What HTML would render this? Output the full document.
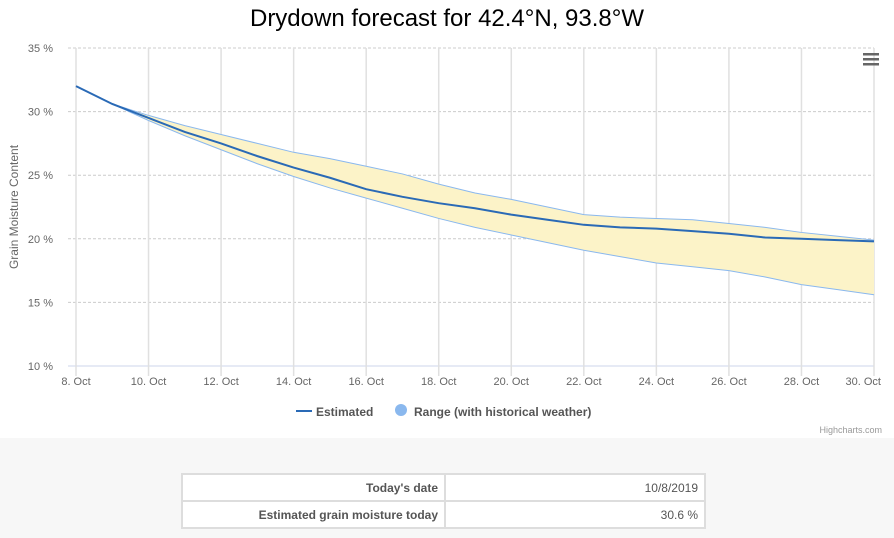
<!DOCTYPE html>
<html><head><meta charset="utf-8">
<style>
body{margin:0;width:894px;height:538px;background:#f7f7f7;font-family:"Liberation Sans",Arial,sans-serif;overflow:hidden;position:relative}
#chart{position:absolute;left:0;top:0;width:894px;height:438px;background:#fff}
table{position:absolute;left:181px;top:473px;width:525px;border-collapse:collapse;font-size:12px;color:#555;background:#fff}
td{border:2px solid #ddd;height:25px;padding:0 6px;text-align:right}
td.l{font-weight:bold;width:249px}
</style></head><body>
<svg id="chart" width="894" height="438" xmlns="http://www.w3.org/2000/svg">
<text x="447" y="26" text-anchor="middle" font-size="24" fill="#000" font-family="Liberation Sans, sans-serif">Drydown forecast for 42.4°N, 93.8°W</text>
<g id="grid"></g><g id="series"></g><g id="axes"></g>
<text transform="translate(18,207) rotate(-90)" text-anchor="middle" font-size="12" fill="#666">Grain Moisture Content</text>
<g fill="#666"><rect x="863" y="53" width="16" height="2.5"/><rect x="863" y="58" width="16" height="2.5"/><rect x="863" y="63" width="16" height="2.5"/></g>
<g><line x1="296" y1="411" x2="312" y2="411" stroke="#2a6ab6" stroke-width="2"/><text x="316" y="416" font-size="12" font-weight="bold" fill="#555">Estimated</text></g>
<g><circle cx="401" cy="410" r="6" fill="#8ab8ee"/><text x="414" y="416" font-size="12" font-weight="bold" fill="#555">Range (with historical weather)</text></g>
<text x="882" y="433" text-anchor="end" font-size="9" fill="#999">Highcharts.com</text>
</svg>
<table>
<tr><td class="l">Today's date</td><td>10/8/2019</td></tr>
<tr><td class="l">Estimated grain moisture today</td><td>30.6 %</td></tr>
</table>
<script>
const days=[8,9,10,11,12,13,14,15,16,17,18,19,20,21,22,23,24,25,26,27,28,29,30];
const estimated=[32.0,30.6,29.5,28.4,27.5,26.5,25.6,24.8,23.9,23.3,22.8,22.4,21.9,21.5,21.1,20.9,20.8,20.6,20.4,20.1,20.0,19.9,19.8];
const upper=[null,30.6,29.7,28.9,28.2,27.5,26.8,26.3,25.7,25.1,24.3,23.6,23.1,22.5,21.9,21.7,21.6,21.5,21.2,20.9,20.5,20.2,19.9];
const lower=[null,30.6,29.3,28.1,27.0,25.9,24.9,24.0,23.2,22.4,21.6,20.9,20.3,19.7,19.1,18.6,18.1,17.8,17.5,17.0,16.4,16.0,15.6];
const yTicks=[10,15,20,25,30,35];
const xTicks=[8,10,12,14,16,18,20,22,24,26,28,30];
const NS="http://www.w3.org/2000/svg";
const X=d=>76+(d-8)*(874-76)/22, Y=v=>366-(v-10)*(366-48)/25;
function mk(p,t,a){const e=document.createElementNS(NS,t);for(const k in a)e.setAttribute(k,a[k]);document.getElementById(p).appendChild(e);return e;}
yTicks.forEach(v=>{
 const l=mk('grid','line',{x1:68,x2:874,y1:Y(v),y2:Y(v),stroke:v==10?'#ccd6eb':'#ccc','stroke-dasharray':v==10?'':'3,2'});
 
 
 const t=mk('axes','text',{x:53,y:Y(v)+4,'text-anchor':'end','font-size':11,fill:'#666'});t.textContent=v+' %';
 
 
});
xTicks.forEach((d,i)=>{
 const l=mk('grid','line',{x1:X(d),x2:X(d),y1:48,y2:376,stroke:'#e0e0e0','stroke-width':1.5});
 
 
 const last=i==xTicks.length-1;
 const t=mk('axes','text',{x:last?X(d)+7:X(d),y:385,'text-anchor':last?'end':'middle','font-size':11,fill:'#666'});t.textContent=d+'. Oct';
 
 
});
let up=[],lo=[];
days.forEach((d,i)=>{if(upper[i]!=null){up.push(X(d)+','+Y(upper[i]));lo.unshift(X(d)+','+Y(lower[i]));}});
const area=mk('series','polygon',{points:up.concat(lo).join(' '),fill:'#fcf3c8'});


const ul=mk('series','polyline',{points:up.join(' '),fill:'none',stroke:'#8ab8ee','stroke-width':1});


const ll=mk('series','polyline',{points:lo.join(' '),fill:'none',stroke:'#8ab8ee','stroke-width':1});


const el=mk('series','polyline',{points:days.map((d,i)=>X(d)+','+Y(estimated[i])).join(' '),fill:'none',stroke:'#2a6ab6','stroke-width':2});


</script>
</body></html>
